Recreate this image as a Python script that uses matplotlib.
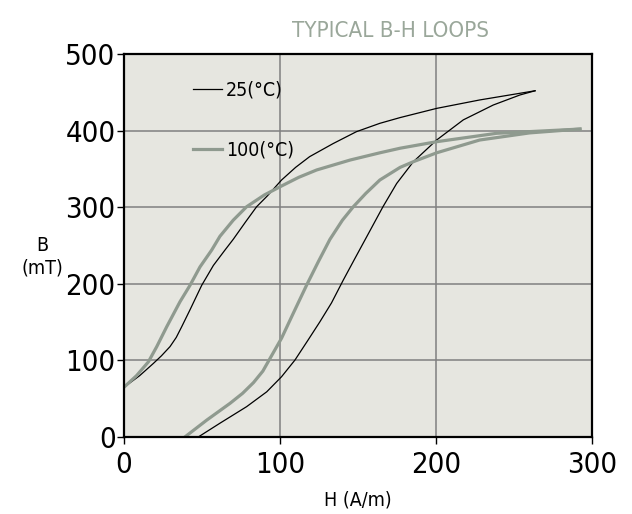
import numpy as np
import matplotlib
matplotlib.use('Agg')
import matplotlib.pyplot as plt

plt.rcParams['font.family'] = ['DejaVu Sans']
plt.rcParams['font.stretch'] = 'condensed'

# 25 C loop
H25_up = [0, 10, 18.8, 24, 29.5, 33.5, 37, 42.3, 49.8, 57.3, 64.7, 70, 78, 85, 92,
          101, 110, 119, 134, 149, 164, 177, 200.4, 228, 263.5]
B25_up = [65, 80, 96, 106, 118, 130, 144, 166, 198, 224, 244, 258, 281, 300.6, 315,
          335.5, 352, 366, 383, 398.6, 409.5, 417, 429, 440, 452]
H25_dn = [47.6, 61.5, 78.6, 91.5, 101, 109.6, 118, 125.6, 133, 140.6, 148, 155.6,
          166, 174.8, 185.5, 200.4, 217.5, 236.7, 253.8, 263.5]
B25_dn = [0, 18, 39.6, 59, 78.7, 100.5, 126.6, 150.5, 175, 205, 233, 261.5,
          300.6, 331, 359.4, 387.7, 414, 433.4, 446.5, 452]

# 100 C loop
H100_up = [0, 8, 15.6, 21, 27.4, 35.9, 42.3, 48.7, 56.2, 61.5, 70, 78.6, 90, 101,
           112, 123.5, 145, 164, 177, 200.4, 239, 292.3]
B100_up = [65, 80, 98, 118, 144, 176.6, 198, 222, 244, 262, 283, 300.6, 316, 327.7,
           339, 348.6, 361.6, 371, 377, 385.5, 396.5, 402]
H100_dn = [39, 53, 68, 76, 83, 89, 94, 101, 108.5, 117, 124.6, 132, 140, 147, 155,
           164, 177, 185.5, 200.4, 228, 260, 292.3]
B100_dn = [0, 22, 44, 57, 71, 86, 104, 129, 161.5, 198, 229, 258, 283, 300.6, 318,
           335.5, 352, 359.4, 371, 387.7, 397, 402]

gray = '#8f9a8f'

fig = plt.figure(figsize=(6.32, 5.14), dpi=100)
ax = fig.add_axes([124/632, 1-437/514, 468/632, 383/514])
ax.set_facecolor('#e6e6e0')

ax.plot(H25_up, B25_up, color='black', lw=0.9, label='25(°C)')
ax.plot(H25_dn, B25_dn, color='black', lw=0.9)
ax.plot(H100_up, B100_up, color=gray, lw=2.3, label='100(°C)')
ax.plot(H100_dn, B100_dn, color=gray, lw=2.3)

ax.set_xlim(0, 300)
ax.set_ylim(0, 500)
ax.set_xticks([0, 100, 200, 300])
ax.set_yticks([0, 100, 200, 300, 400, 500])
ax.grid(True, color='#808080', lw=1.1)
ax.set_axisbelow(True)
for s in ax.spines.values():
    s.set_linewidth(1.6)
ax.tick_params(labelsize=21, length=5, width=1)
ax.tick_params(axis='y', pad=1)
ax.tick_params(axis='x', pad=5)

ax.set_xlabel('H (A/m)', fontsize=14, labelpad=8)
ax.set_ylabel('B\n(mT)', fontsize=14, rotation=0, va='center')
ax.yaxis.set_label_coords(-0.175, 0.47)
ax.set_title('TYPICAL B-H LOOPS', color='#9aa79a', fontsize=16, pad=12, x=0.57)

ax.legend(loc='upper left', bbox_to_anchor=(0.13, 0.95), borderaxespad=0,
          frameon=False, fontsize=14, handlelength=1.5, handletextpad=0.2,
          labelspacing=2.1)

fig.savefig('out.png', dpi=100)
